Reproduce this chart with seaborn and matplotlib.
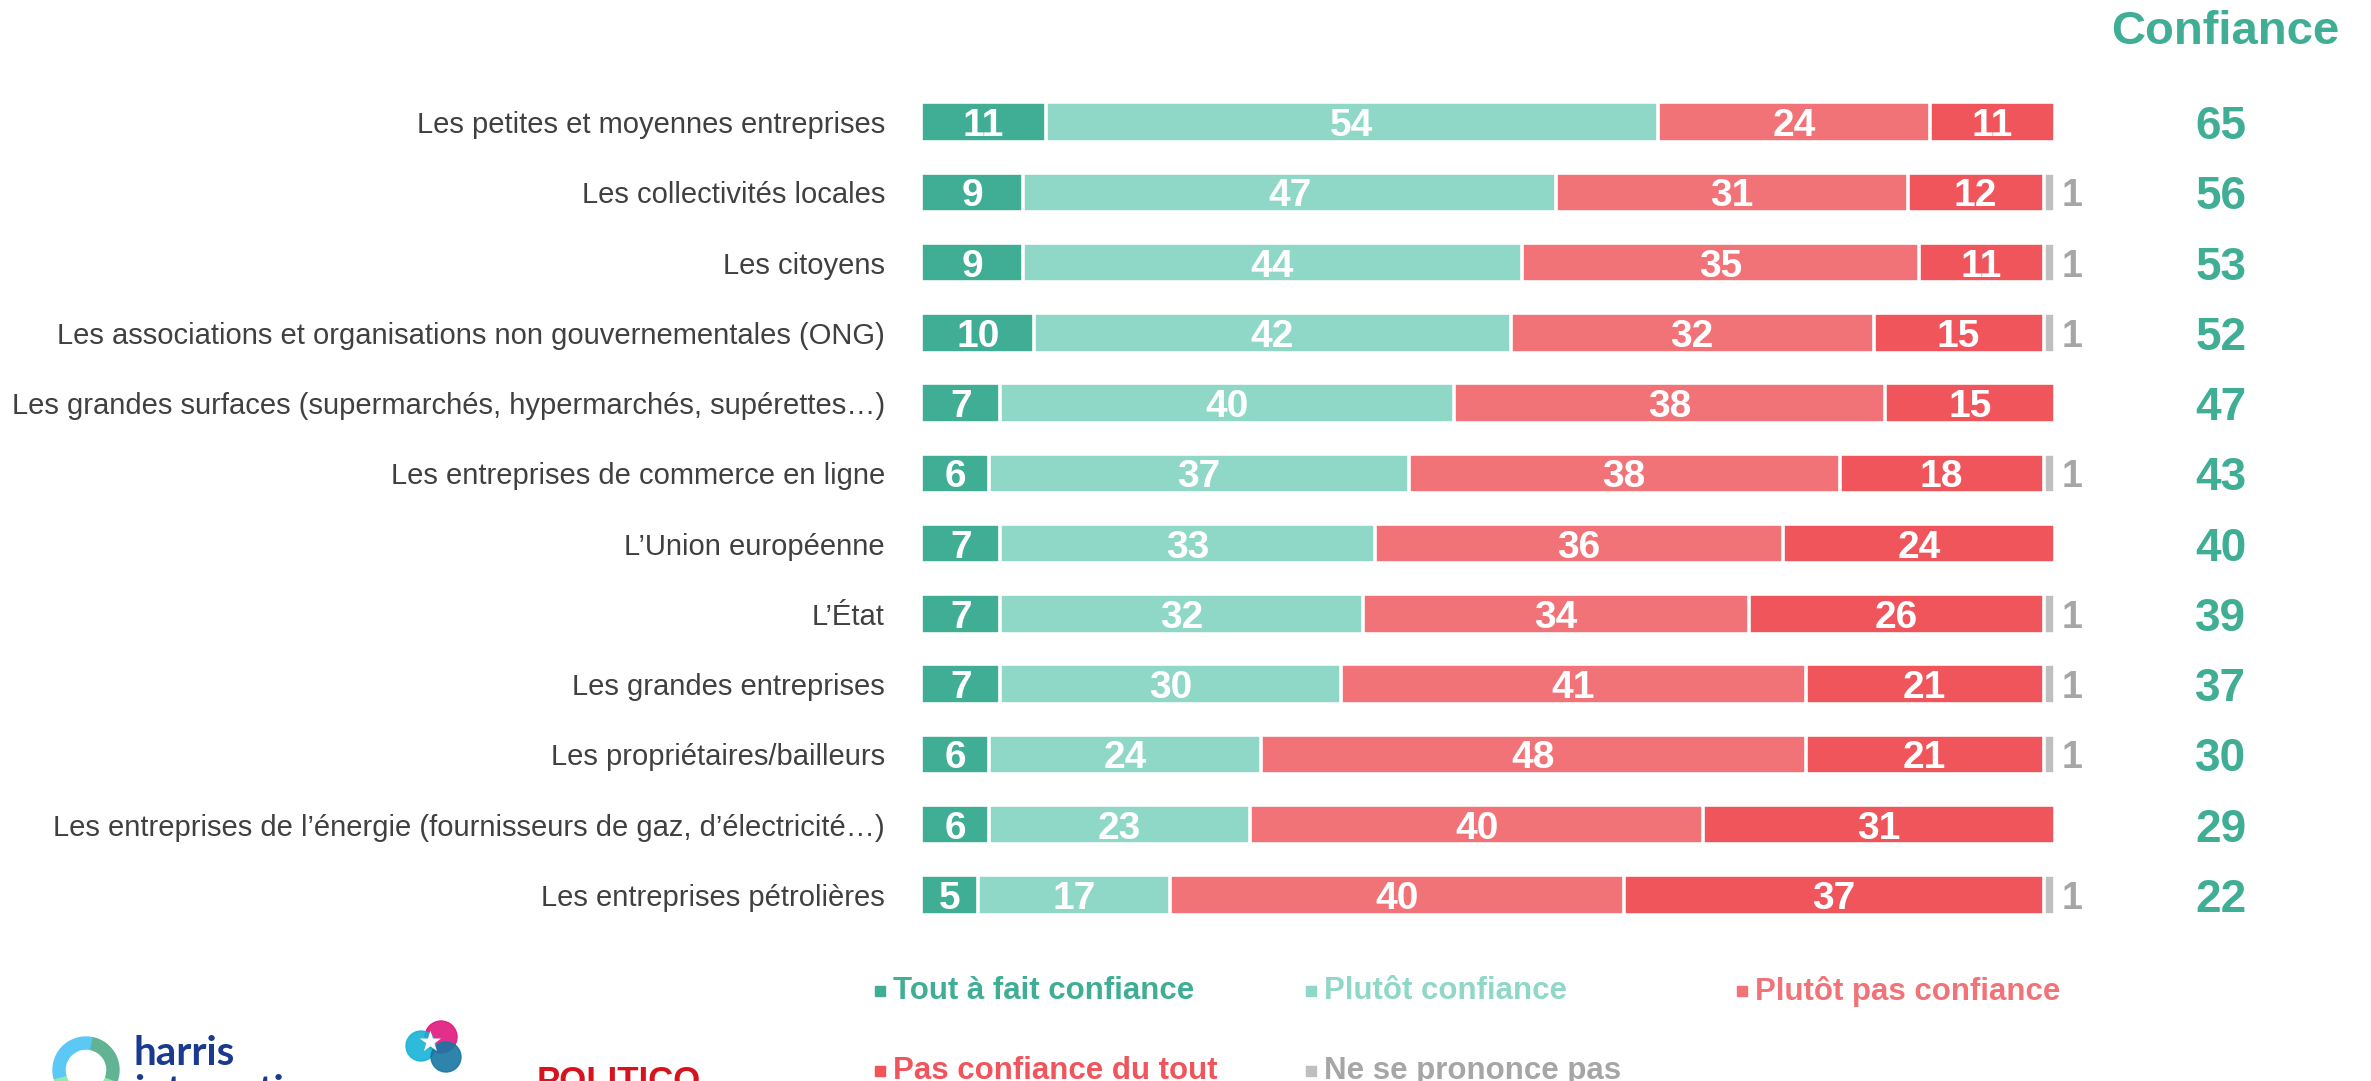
import matplotlib
matplotlib.use("Agg")
import matplotlib.pyplot as plt
import matplotlib.patches as mpatches
import matplotlib.transforms as mtransforms
import seaborn as sns
import pandas as pd
import numpy as np

# data
categories = [
    "Les petites et moyennes entreprises",
    "Les collectivités locales",
    "Les citoyens",
    "Les associations et organisations non gouvernementales (ONG)",
    "Les grandes surfaces (supermarchés, hypermarchés, supérettes…)",
    "Les entreprises de commerce en ligne",
    "L’Union européenne",
    "L’État",
    "Les grandes entreprises",
    "Les propriétaires/bailleurs",
    "Les entreprises de l’énergie (fournisseurs de gaz, d’électricité…)",
    "Les entreprises pétrolières",
]
tout_a_fait = [11, 9, 9, 10, 7, 6, 7, 7, 7, 6, 6, 5]
plutot = [54, 47, 44, 42, 40, 37, 33, 32, 30, 24, 23, 17]
plutot_pas = [24, 31, 35, 32, 38, 38, 36, 34, 41, 48, 40, 40]
pas_du_tout = [11, 12, 11, 15, 15, 18, 24, 26, 21, 21, 31, 37]
nsp = [0, 1, 1, 1, 0, 1, 0, 1, 1, 1, 0, 1]
confiance = [65, 56, 53, 52, 47, 43, 40, 39, 37, 30, 29, 22]

series_names = ["Tout à fait confiance", "Plutôt confiance", "Plutôt pas confiance",
                "Pas confiance du tout", "Ne se prononce pas"]
colors = ["#3FAE94", "#8FD8C8", "#F27377", "#EF555B", "#BFBFBF"]
text_colors = ["#3FAE94", "#8FD8C8", "#F27377", "#EF555B", "#A6A6A6"]

df = pd.DataFrame({
    "cat": categories,
    series_names[0]: tout_a_fait,
    series_names[1]: plutot,
    series_names[2]: plutot_pas,
    series_names[3]: pas_du_tout,
    series_names[4]: nsp,
})
cum = df[series_names].cumsum(axis=1)

sns.set_theme(style="white")
plt.rcParams["font.family"] = ["Liberation Sans", "DejaVu Sans"]

W, H = 2371, 1081
fig = plt.figure(figsize=(W / 100, H / 100), dpi=100)
ax = fig.add_axes([0.38845, 0.1397, 0.47828, 0.7798])

# stacked bars: draw cumulative totals from longest to shortest
for name, col in zip(reversed(series_names), reversed(colors)):
    sns.barplot(x=cum[name], y=df["cat"], color=col, saturation=1, width=0.56,
                edgecolor="white", linewidth=2.6, errorbar=None, orient="h", ax=ax)

ax.set_xlim(0, 100)
ax.set_ylim(11.5, -0.5)
ax.set_xlabel("")
ax.set_ylabel("")
ax.set_xticks([])
sns.despine(ax=ax, left=True, bottom=True)
ax.tick_params(axis="y", length=0, pad=26, labelsize=21, labelcolor="#404040")

fig_y = mtransforms.blended_transform_factory(fig.transFigure, ax.transData)

# segment labels
for i in range(len(categories)):
    left = 0
    for name in series_names[:4]:
        v = df[name][i]
        ax.text(left + v / 2, i, str(v), ha="center", va="center_baseline",
                color="white", fontsize=28, fontweight="bold")
        left += v
    if nsp[i]:
        ax.text(101.5, i, str(nsp[i]), ha="center", va="center_baseline",
                color="#A6A6A6", fontsize=27, fontweight="bold", clip_on=False)
    ax.text(0.9367, i, str(confiance[i]), transform=fig_y,
            ha="center", va="center_baseline", color="#3FAE94", fontsize=33, fontweight="bold")

fig.text(0.9385, 0.970, "Confiance", ha="center", va="center", color="#3FAE94",
         fontsize=34, fontweight="bold")

# legend (two rows, manual layout as in the original)
leg_x = [0.369, 0.5508, 0.7326, 0.369, 0.5508]
leg_y = [0.083, 0.083, 0.083, 0.009, 0.009]
for name, col, tcol, x, y in zip(series_names, colors, text_colors, leg_x, leg_y):
    fig.patches.append(mpatches.Rectangle((x, y - 0.0045), 10 / W, 10 / H,
                                          transform=fig.transFigure, color=col))
    fig.text(x + 18 / W, y, name, ha="left", va="center", color=tcol,
             fontsize=22.5, fontweight="bold")

# logos (approximate, cropped at the bottom edge as in the source)
lax = fig.add_axes([0, 0, 720 / W, 100 / H])
lax.set_xlim(0, 720)
lax.set_ylim(1081, 981)
lax.axis("off")
ring = [("#8EEBB0", 20, 165), ("#62B394", -80, 20), ("#5BC8F5", 165, 280)]
for col, a1, a2 in ring:
    lax.add_patch(mpatches.Wedge((86, 1070), 33, a1, a2, width=12, color=col))
lax.text(134, 1065, "harris", ha="left", va="baseline",
         color="#1A3A8F", fontsize=29, fontweight="bold", family=["Lato", "DejaVu Sans"])
lax.text(134, 1104, "interactive", ha="left", va="baseline", clip_on=True,
         color="#1A3A8F", fontsize=29, fontweight="bold", family=["Lato", "DejaVu Sans"])
for (cx, cy, r, col) in [(441, 1037, 16, "#E0187C"), (421, 1046, 15, "#17B3D6"),
                         (446, 1057, 15, "#1877A3")]:
    lax.add_patch(mpatches.Circle((cx, cy), r, color=col, alpha=0.9))
lax.text(430, 1043, "★", ha="center", va="center", color="white",
         fontsize=20, family=["DejaVu Sans"])
lax.text(537, 1091, "POLITICO", ha="left", va="baseline", clip_on=True,
         color="#D7141E", fontsize=25, fontweight="bold")

fig.savefig("out.png", dpi=100, facecolor="white")
